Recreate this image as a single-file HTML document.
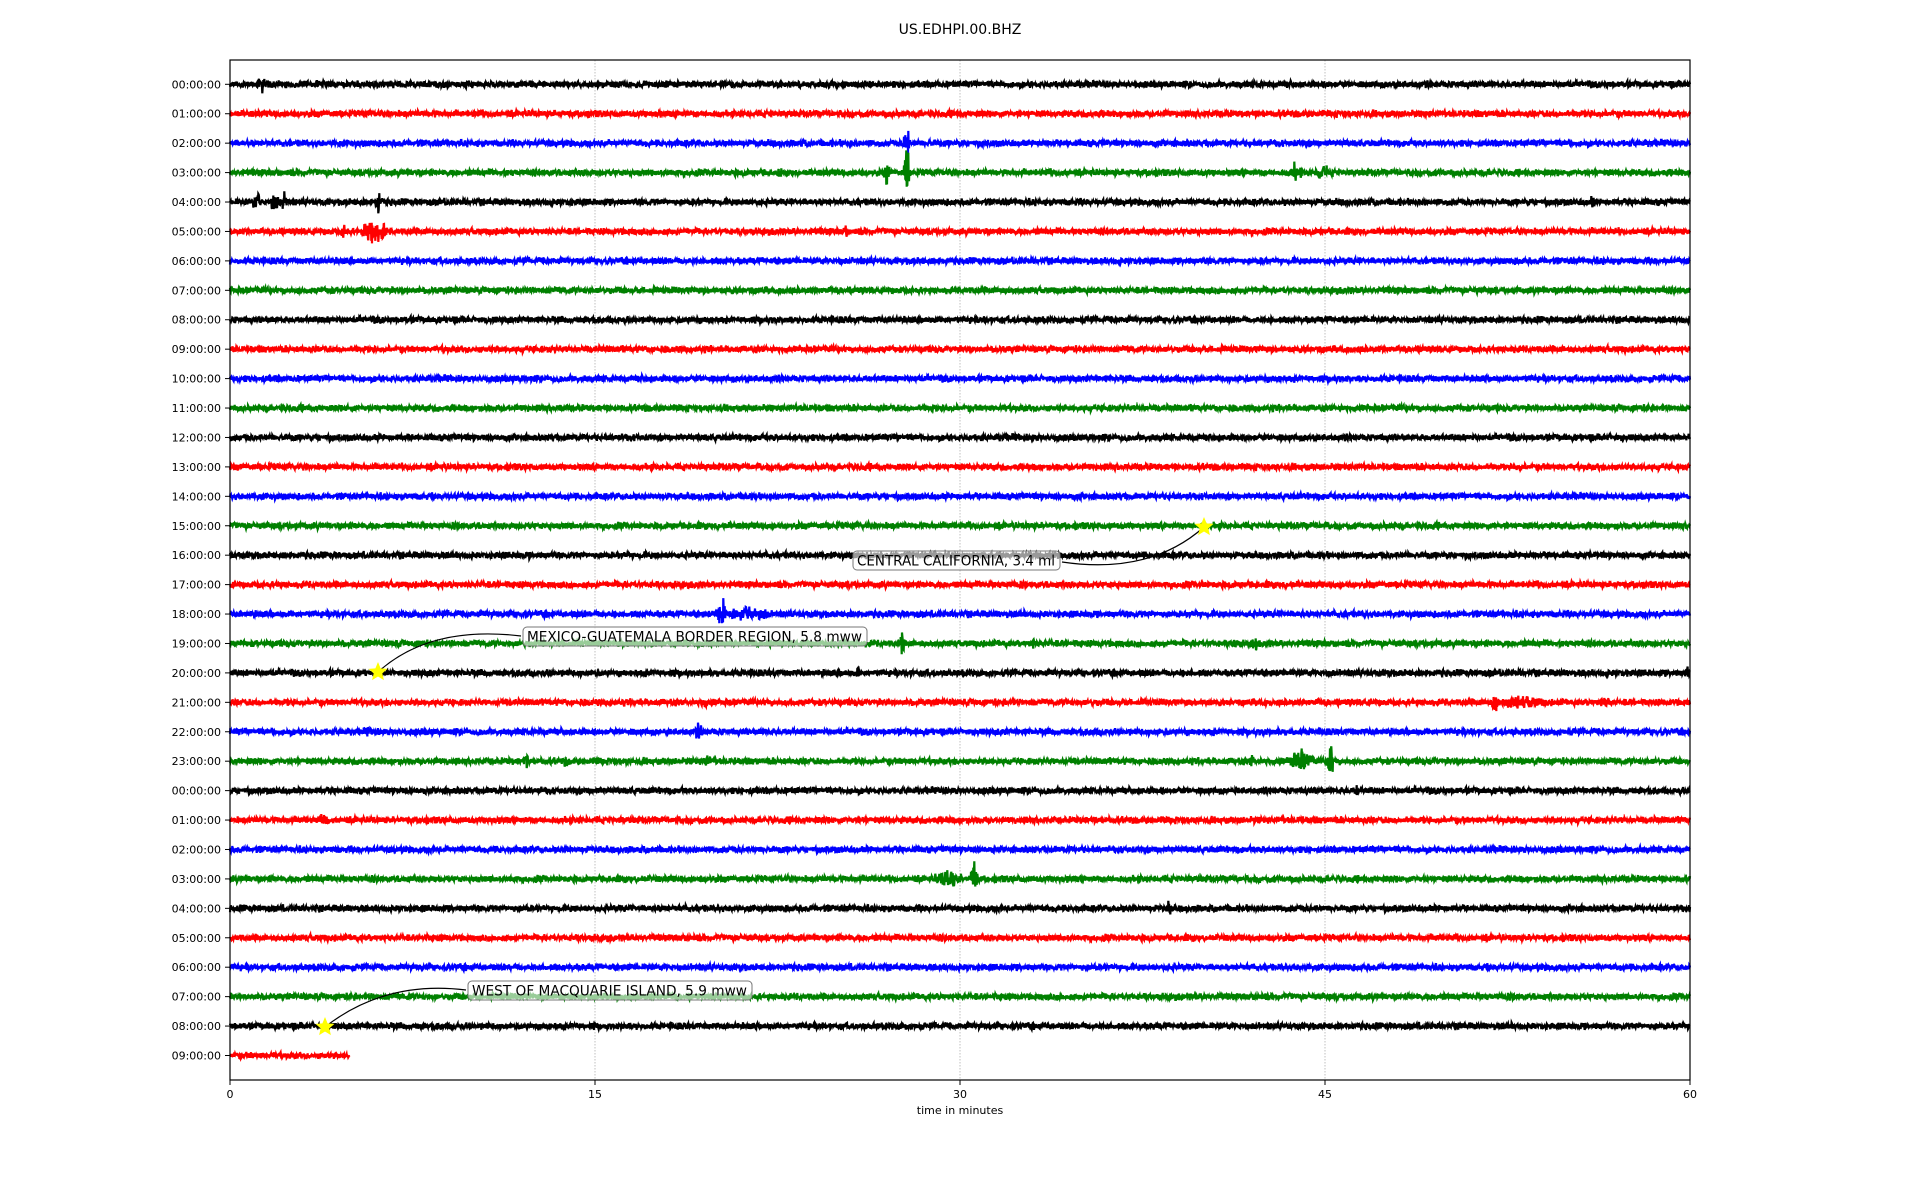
<!DOCTYPE html>
<html><head><meta charset="utf-8"><style>
html,body{margin:0;padding:0;background:#fff;width:1920px;height:1200px;overflow:hidden}
svg{display:block}
text{font-family:"DejaVu Sans","Liberation Sans",sans-serif}
</style></head><body>
<svg id="s" width="1920" height="1200" xmlns="http://www.w3.org/2000/svg">
<text x="960" y="34" font-size="14" text-anchor="middle">US.EDHPI.00.BHZ</text>
<g id="grid" stroke="#b0b0b0" stroke-width="0.8" stroke-dasharray="1.5,1.5">
<line x1="595" y1="60" x2="595" y2="1080"/><line x1="960" y1="60" x2="960" y2="1080"/><line x1="1325" y1="60" x2="1325" y2="1080"/>
</g>
<g id="traces"></g>
<rect x="230" y="60" width="1460" height="1020" fill="none" stroke="#000" stroke-width="1.2"/>
<g id="yt" font-size="11" text-anchor="end"></g>
<g font-size="11" text-anchor="middle">
<line x1="230" y1="1080" x2="230" y2="1085" stroke="#000"/><text x="230" y="1098">0</text>
<line x1="595" y1="1080" x2="595" y2="1085" stroke="#000"/><text x="595" y="1098">15</text>
<line x1="960" y1="1080" x2="960" y2="1085" stroke="#000"/><text x="960" y="1098">30</text>
<line x1="1325" y1="1080" x2="1325" y2="1085" stroke="#000"/><text x="1325" y="1098">45</text>
<line x1="1690" y1="1080" x2="1690" y2="1085" stroke="#000"/><text x="1690" y="1098">60</text>
<text x="960" y="1114">time in minutes</text>
</g>
<g id="ann" font-size="14"></g>
</svg>
<script>
var seed=12345;function r(){seed=(seed*1103515245+12345)%2147483648;return seed/2147483648;}
function g(){return (r()+r()+r()-1.5)/1.5;}
var cols=['#000','#f00','#00f','#008000'];
var y0=84.3,dy=29.43,x0=230,ppm=24.333;
var ev={0:[[1.3,14,0.1],[10.8,5,0.1]],1:[],2:[[27.8,34,0.06]],3:[[27.8,44,0.06],[27,16,0.08],[43.8,14,0.2],[44.9,20,0.12],[22.6,7,0.1]],
4:[[1.1,18,0.12],[1.8,16,0.15],[2.2,14,0.12],[6.1,18,0.12],[56,10,0.1]],5:[[4.7,14,0.1],[5.8,24,0.3],[6.3,14,0.15],[25.3,10,0.05]],11:[[13.6,10,0.05]],
17:[[2,9,0.05]],18:[[20.2,26,0.15],[21.3,13,0.9],[12.5,6,0.2]],19:[[27.6,24,0.06],[33,10,0.06],[41.3,10,0.08],[42.1,15,0.05],[16.5,6,0.2]],
20:[[59.9,12,0.08],[25.8,10,0.08]],21:[[52,18,0.08],[53,10,1.2],[56.5,9,0.3],[19.5,9,0.12]],22:[[19.3,13,0.15],[5.7,7,0.3]],
23:[[44,16,0.5],[45.2,34,0.08],[12.2,13,0.1],[13.8,8,0.1],[19.6,12,0.12],[42,12,0.05],[49.5,6,0.3]],24:[[46.3,10,0.05]],25:[[3.9,11,0.15]],
27:[[29.5,15,0.5],[30.6,32,0.1]],28:[[38.6,13,0.05]]};
var h='',yt='';
for(var i=0;i<34;i++){
 var yc=y0+i*dy,c=cols[i%4],end=(i==33)?4.9:60,n=Math.round(end*ppm*3),p=[];
 var E=ev[i]||[];
 for(var k=0;k<=n;k++){var m=k/n*end,a=4.4;
  for(var j=0;j<E.length;j++){var d=Math.abs(m-E[j][0]);if(d<E[j][2]+0.05){a=Math.max(a,E[j][1]*(1-0.6*d/(E[j][2]+0.05)));}}
  p.push((x0+m*ppm).toFixed(1)+','+(yc+g()*a*(k%2?1:-1)).toFixed(1));}
 h+='<polyline fill="none" stroke="'+c+'" stroke-width="2.2" points="'+p.join(' ')+'"/>';
 var hh=(i%24);var lab=(hh<10?'0':'')+hh+':00:00';
 yt+='<line x1="225" y1="'+yc+'" x2="230" y2="'+yc+'" stroke="#000"/><text x="221" y="'+(yc+4)+'">'+lab+'</text>';
}
document.getElementById('traces').innerHTML=h;document.getElementById('yt').innerHTML=yt;
function star(cx,cy){var s='';for(var k=0;k<10;k++){var rr=k%2?4.5:10,a=-Math.PI/2+k*Math.PI/5;s+=(cx+rr*Math.cos(a)).toFixed(1)+','+(cy+rr*Math.sin(a)).toFixed(1)+' ';}return '<polygon points="'+s+'" fill="#ff0"/>';}
var A=[[1204,527,853,551,207,'CENTRAL CALIFORNIA, 3.4 ml','M1204 527 Q1150 575 1062 562'],
[378,672,523,627,344,'MEXICO-GUATEMALA BORDER REGION, 5.8 mww','M378 672 Q430 625 521 636'],
[325,1027,468,981,284,'WEST OF MACQUARIE ISLAND, 5.9 mww','M325 1027 Q385 980 466 990']];
var s='';A.forEach(function(a){s+='<path d="'+a[6]+'" fill="none" stroke="#000" stroke-width="1.2"/>';
s+='<rect x="'+a[2]+'" y="'+a[3]+'" width="'+a[4]+'" height="19" rx="4" fill="#fff" fill-opacity="0.6" stroke="#777"/>';
s+='<text x="'+(a[2]+4)+'" y="'+(a[3]+14.5)+'" textLength="'+(a[4]-9)+'" lengthAdjust="spacingAndGlyphs">'+a[5]+'</text>'+star(a[0],a[1]);});
document.getElementById('ann').innerHTML=s;
</script>
</body></html>
